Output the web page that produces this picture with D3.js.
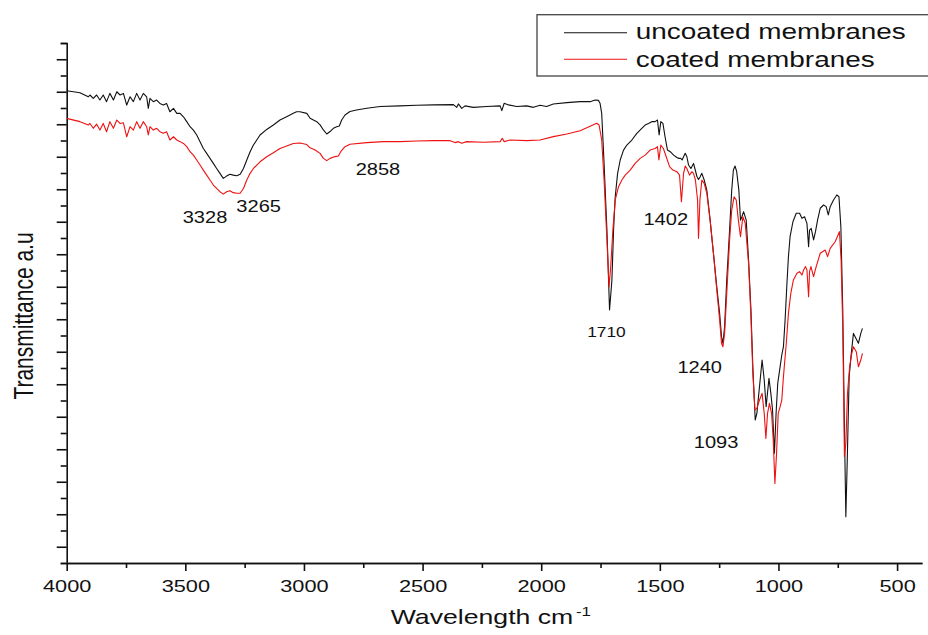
<!DOCTYPE html>
<html lang="en">
<head>
<meta charset="utf-8"/>
<title>FTIR spectra of membranes</title>
<script src="https://d3js.org/d3.v7.min.js"></script>
<style>
  body { margin: 0; padding: 0; background: #fff; }
  svg text { font-family: "Liberation Sans", Arial, sans-serif; fill: #111; }
  .axis path, .axis line { stroke: #111; stroke-width: 1.6; }
</style>
</head>
<body>
<svg id="chart" width="928" height="635"></svg>
<script>
// wavenumber (cm-1), transmittance (a.u.)
const uncoated = [
  [4000,29.06],[3944,28.94],[3909,28.69],[3902,28.80],[3888,28.59],[3874,28.80],[3860,28.49],[3846,28.80],
  [3832,28.39],[3818,28.90],[3803,28.49],[3789,29.00],[3775,28.80],[3761,28.90],[3747,28.18],[3733,28.69],
  [3719,28.39],[3705,28.90],[3691,28.49],[3677,28.90],[3663,28.69],[3656,27.98],[3649,28.59],[3635,28.39],
  [3621,28.49],[3607,28.28],[3593,28.18],[3579,28.28],[3565,27.77],[3550,27.98],[3536,27.67],[3522,27.67],
  [3508,27.46],[3494,27.16],[3480,26.85],[3466,26.64],[3452,26.34],[3438,25.93],[3424,25.51],[3410,25.21],
  [3396,24.90],[3382,24.59],[3368,24.28],[3354,23.98],[3340,23.67],[3326,23.81],[3312,23.92],[3298,23.87],
  [3283,23.83],[3269,23.92],[3255,24.28],[3241,24.80],[3227,25.31],[3213,25.72],[3199,26.03],[3185,26.34],
  [3157,26.68],[3129,26.95],[3101,27.26],[3073,27.46],[3045,27.67],[3031,27.77],[3017,27.77],[2988,27.67],
  [2974,27.37],[2960,27.26],[2946,27.16],[2932,26.96],[2918,26.65],[2904,26.40],[2890,26.55],[2876,26.75],
  [2862,26.85],[2851,26.89],[2841,27.26],[2827,27.57],[2806,27.78],[2778,27.88],[2735,27.98],[2679,28.09],
  [2595,28.13],[2525,28.17],[2454,28.19],[2370,28.21],[2356,28.04],[2349,28.25],[2335,27.98],[2321,28.13],
  [2286,28.04],[2230,28.09],[2173,28.13],[2166,27.84],[2156,28.29],[2138,28.19],[2103,28.09],[2061,28.13],
  [2033,28.04],[2005,28.17],[1977,28.09],[1949,28.25],[1892,28.33],[1836,28.39],[1794,28.39],[1773,28.49],
  [1759,28.47],[1752,28.29],[1745,27.67],[1735,24.59],[1723,20.49],[1712,15.57],[1702,17.41],[1695,20.49],
  [1688,22.54],[1678,23.98],[1667,24.80],[1653,25.41],[1639,25.72],[1618,26.03],[1597,26.44],[1576,26.75],
  [1562,26.95],[1548,27.05],[1534,27.16],[1520,27.16],[1510,27.26],[1503,26.34],[1496,27.16],[1487,27.05],
  [1478,26.23],[1468,25.42],[1456,25.31],[1442,25.10],[1428,24.95],[1420,24.90],[1412,24.90],[1406,24.80],
  [1400,25.00],[1393,25.21],[1386,25.00],[1379,24.49],[1369,24.28],[1358,24.59],[1351,24.20],[1344,23.80],
  [1337,23.60],[1330,23.77],[1323,23.98],[1313,23.57],[1302,22.95],[1288,21.10],[1274,19.05],[1260,17.00],
  [1248,15.36],[1240,13.93],[1234,13.52],[1227,14.54],[1218,17.41],[1206,20.49],[1197,22.95],[1190,24.18],
  [1183,24.43],[1176,24.08],[1167,22.95],[1160,21.10],[1154,21.31],[1147,21.62],[1136,21.10],[1126,18.65],
  [1116,15.57],[1108,12.08],[1098,8.80],[1091,9.21],[1080,10.85],[1069,12.49],[1060,11.26],[1052,9.62],
  [1040,11.36],[1032,10.44],[1025,9.42],[1017,6.75],[1010,9.21],[1003,11.06],[993,12.08],[986,12.80],
  [979,13.31],[972,14.95],[965,17.00],[958,18.85],[951,20.08],[939,21.00],[925,21.52],[911,21.52],
  [901,21.21],[890,21.31],[880,20.90],[873,19.47],[869,20.49],[862,20.59],[852,19.88],[844,20.39],
  [835,21.11],[824,21.83],[810,22.03],[799,21.93],[790,21.42],[782,21.93],[768,22.34],[754,22.65],
  [745,22.54],[737,20.70],[729,15.57],[722,8.39],[716,2.85],[710,6.34],[702,11.47],[693,12.90],
  [684,14.13],[677,13.93],[663,13.52],[653,14.13],[646,14.44]
];

const coated = [
  [4000,27.36],[3944,27.16],[3909,26.95],[3902,27.05],[3888,26.75],[3874,27.01],[3860,26.64],[3846,27.05],
  [3832,26.54],[3818,27.16],[3803,26.75],[3789,27.26],[3775,27.05],[3761,27.09],[3747,26.23],[3733,26.85],
  [3719,26.64],[3705,27.16],[3691,26.75],[3677,27.16],[3663,26.85],[3656,26.34],[3649,26.85],[3635,26.64],
  [3621,26.75],[3607,26.54],[3593,26.44],[3579,26.54],[3565,26.03],[3550,26.23],[3536,26.03],[3522,25.93],
  [3508,25.82],[3494,25.62],[3480,25.31],[3466,25.10],[3452,24.80],[3438,24.49],[3424,24.18],[3410,23.87],
  [3396,23.57],[3382,23.26],[3368,23.05],[3354,22.85],[3340,22.70],[3326,22.85],[3312,22.91],[3298,22.79],
  [3283,22.75],[3269,22.75],[3255,23.05],[3241,23.57],[3227,23.98],[3213,24.28],[3185,24.69],[3157,25.00],
  [3129,25.25],[3101,25.51],[3073,25.66],[3045,25.82],[3017,25.85],[2988,25.75],[2974,25.55],[2953,25.42],
  [2932,25.21],[2918,24.90],[2904,24.76],[2890,24.90],[2869,25.01],[2855,25.05],[2845,25.31],[2827,25.62],
  [2806,25.77],[2735,25.87],[2665,25.93],[2595,25.93],[2525,25.97],[2454,25.99],[2384,25.99],[2363,25.87],
  [2349,25.93],[2335,25.83],[2314,25.93],[2244,25.89],[2173,25.93],[2164,26.14],[2156,25.93],[2131,26.03],
  [2061,25.99],[2005,26.03],[1949,26.24],[1892,26.40],[1836,26.60],[1794,26.87],[1766,27.06],[1756,26.95],
  [1745,26.03],[1735,23.57],[1723,19.87],[1714,17.00],[1707,18.23],[1698,20.49],[1688,22.34],[1674,23.16],
  [1660,23.57],[1646,23.87],[1625,24.18],[1604,24.59],[1583,24.90],[1562,25.10],[1541,25.41],[1520,25.51],
  [1510,25.62],[1504,24.80],[1496,25.72],[1485,25.51],[1473,25.00],[1459,24.39],[1445,24.18],[1428,24.08],
  [1417,23.87],[1409,22.23],[1400,23.98],[1393,24.43],[1386,24.28],[1375,23.87],[1365,24.08],[1358,23.98],
  [1350,23.57],[1341,22.34],[1337,19.98],[1331,22.34],[1323,23.57],[1313,23.36],[1302,22.75],[1288,21.10],
  [1274,19.05],[1260,16.80],[1248,14.95],[1240,13.52],[1234,13.31],[1227,14.13],[1218,16.59],[1206,19.87],
  [1197,21.72],[1187,22.54],[1178,22.34],[1169,21.10],[1160,20.08],[1150,21.31],[1140,20.90],[1126,18.44],
  [1116,15.16],[1108,11.67],[1099,9.42],[1091,9.52],[1080,10.03],[1069,10.44],[1060,9.21],[1053,7.67],
  [1046,9.21],[1038,9.83],[1029,9.21],[1022,7.57],[1015,4.90],[1008,6.75],[1001,9.21],[993,9.62],
  [986,10.03],[979,11.47],[967,13.52],[958,15.36],[948,16.59],[937,17.42],[922,17.83],[911,17.93],
  [901,17.72],[894,18.03],[886,18.24],[880,18.03],[873,16.39],[869,17.93],[863,18.24],[852,17.62],
  [841,18.24],[824,19.06],[803,19.26],[793,18.85],[782,19.36],[761,19.77],[743,20.39],[736,18.65],
  [729,14.54],[722,6.54],[716,7.36],[709,10.44],[700,12.08],[691,12.90],[684,13.31],[672,13.00],
  [663,12.08],[653,12.49],[646,12.90]
];

const xMajorTicks = [4000, 3500, 3000, 2500, 2000, 1500, 1000, 500];
const xMinorTicks = [3750, 3250, 2750, 2250, 1750, 1250, 750];
const yTicks = d3.range(0, 33);

// peak labels: text, wavenumber, transmittance where the label sits
const peakLabels = ["3328", "3265", "2858", "1402", "1710", "1240", "1093"];
const peakLabelWave = [3417, 3191, 2688, 1475, 1725, 1332, 1263];
const peakLabelT = [20.9, 21.62, 23.88, 20.8, 13.93, 11.71, 7.06];

const seriesNames = ["uncoated membranes", "coated membranes"];
const seriesColors = ["#111111", "#ee1111"];

const svg = d3.select("#chart");
const x = d3.scaleLinear().domain([4000, 395]).range([66.7, 922]);
const y = d3.scaleLinear().domain([0, 32]).range([563, 43]);

// the original picture is stretched sideways, so text is too
function wideText(px, py, txt, size, sx, anchor) {
  return svg.append("text")
    .attr("transform", `translate(${px},${py}) scale(${sx},1)`)
    .attr("text-anchor", anchor)
    .style("font-size", size + "px")
    .text(txt);
}

// x axis
svg.append("g").attr("class", "axis")
  .attr("transform", `translate(0,${y(0)})`)
  .call(d3.axisBottom(x).tickValues(xMinorTicks).tickSize(5).tickSizeOuter(0).tickFormat(""));
const xAxis = svg.append("g").attr("class", "axis")
  .attr("transform", `translate(0,${y(0)})`)
  .call(d3.axisBottom(x).tickValues(xMajorTicks).tickSize(8).tickSizeOuter(0).tickFormat(d3.format("d")));
xAxis.selectAll("text")
  .attr("y", 29.3).attr("dy", 0)
  .attr("transform", "scale(1.28,1)")
  .style("font-size", "17px")
  .style("font-family", '"Liberation Sans", Arial, sans-serif')
  .attr("fill", "#111");

// y axis, no labels, long ticks on odd steps
svg.append("g").attr("class", "axis")
  .attr("transform", `translate(${x(4000)},0)`)
  .call(d3.axisLeft(y).tickValues(yTicks).tickSizeOuter(0).tickFormat("")
    .tickSize(6))
  .selectAll(".tick line")
  .attr("x2", d => d % 2 === 1 ? -10 : -6);

// spectra
const line = d3.line().x(d => x(d[0])).y(d => y(d[1]));
[uncoated, coated].forEach((s, i) => {
  svg.append("path")
    .datum(s)
    .attr("fill", "none")
    .attr("stroke", seriesColors[i])
    .attr("stroke-width", 1.1)
    .attr("stroke-linejoin", "round")
    .attr("d", line);
});

// peak labels
peakLabels.forEach((t, i) => {
  const small = t === "1710";
  wideText(x(peakLabelWave[i]), y(peakLabelT[i]), t, small ? 15.5 : 17, small ? 1.12 : 1.18, "middle");
});

// axis titles
wideText(390.7, 624, "Wavelength cm", 20.5, 1.3, "start")
  .append("tspan").attr("dx", 2).attr("dy", -8).style("font-size", "13px").text("-1");

svg.append("text")
  .attr("transform", "translate(33,316) rotate(-90) scale(1,1.28)")
  .attr("text-anchor", "middle")
  .style("font-size", "21px")
  .text("Transmittance a.u");

// legend
svg.append("rect")
  .attr("x", 537).attr("y", 14.7)
  .attr("width", 400).attr("height", 61.3)
  .attr("fill", "#fff").attr("stroke", "#444").attr("stroke-width", 1.3);
seriesNames.forEach((name, i) => {
  const ly = 32.7 + i * 26.6;
  svg.append("line")
    .attr("x1", 564).attr("x2", 627).attr("y1", ly).attr("y2", ly)
    .attr("stroke", seriesColors[i]).attr("stroke-width", 1.1);
  wideText(635.7, 39.3 + i * 27.4, name, 22, 1.27, "start");
});
</script>
</body>
</html>
